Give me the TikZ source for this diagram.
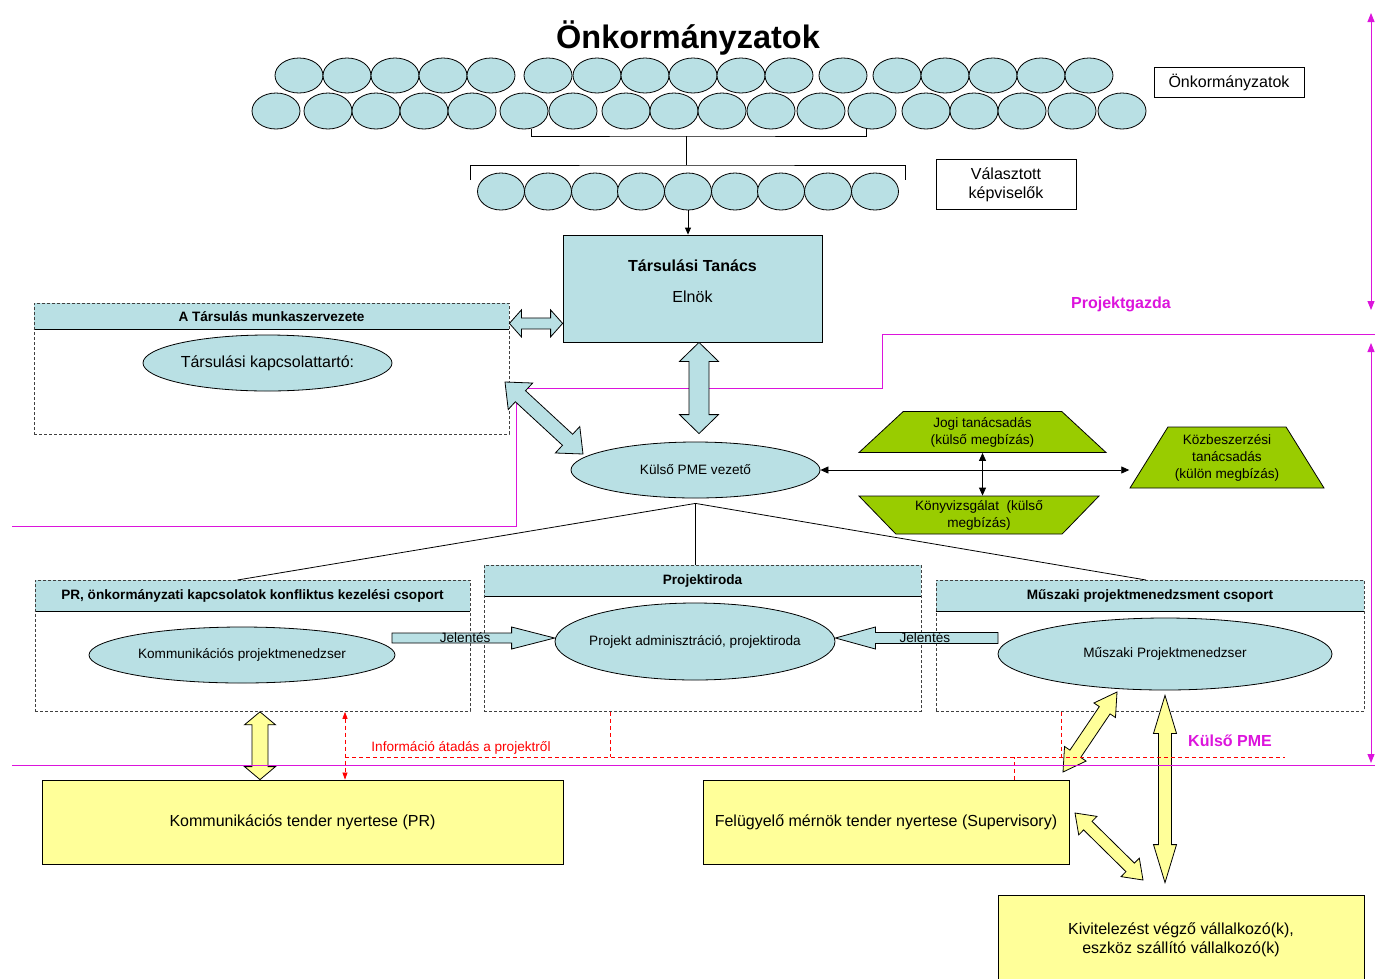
\documentclass[tikz,border=0pt]{standalone}
\usepackage{fontspec}
\setmainfont{Liberation Sans}
\usetikzlibrary{shapes.geometric, arrows.meta, positioning, calc}

\definecolor{tblue}{RGB}{185,224,228}
\definecolor{tgreen}{RGB}{153,204,0}
\definecolor{tyellow}{RGB}{255,255,153}
\definecolor{tmagenta}{RGB}{220,20,220}

\newcommand{\smallfont}{\fontsize{13.6}{17}\selectfont}
\newcommand{\largefont}{\fontsize{16}{19}\selectfont}

% block arrows: style, from, to, half shaft, half head, head length
\newcommand{\fatarrow}[6]{%
	\coordinate (fa1) at ($(#2)!#6!(#3)$);
	\coordinate (fa2) at ($(#3)!#6!(#2)$);
	\draw[#1] (#2) -- ($(fa1)!#5!90:(#3)$) -- ($(fa1)!#4!90:(#3)$) -- ($(fa2)!#4!-90:(#2)$) -- ($(fa2)!#5!-90:(#2)$)
		-- (#3) -- ($(fa2)!#5!90:(#2)$) -- ($(fa2)!#4!90:(#2)$) -- ($(fa1)!#4!-90:(#3)$) -- ($(fa1)!#5!-90:(#3)$) -- cycle;
}
\newcommand{\fatsingle}[6]{%
	\coordinate (fa1) at ($(#3)!#6!(#2)$);
	\draw[#1] ($(#2)!#4!90:(#3)$) -- ($(fa1)!#4!-90:(#2)$) -- ($(fa1)!#5!-90:(#2)$) -- (#3)
		-- ($(fa1)!#5!90:(#2)$) -- ($(fa1)!#4!90:(#2)$) -- ($(#2)!#4!-90:(#3)$) -- cycle;
}

\tikzstyle{member} = [ellipse, draw, fill=tblue, minimum width=48pt, minimum height=36pt, inner sep=0pt]
\tikzstyle{tag} = [rectangle, draw, fill=white, align=center, font=\largefont]
\tikzstyle{council} = [rectangle, draw, fill=tblue, align=center, font=\largefont, minimum width=259pt, minimum height=107pt]
\tikzstyle{teamhead} = [rectangle, fill=tblue, anchor=north, minimum height=31pt, inner sep=0pt, font=\smallfont\bfseries]
\tikzstyle{teamframe} = [rectangle, draw=black!75, dash pattern=on 3pt off 2pt, anchor=north]
\tikzstyle{role} = [ellipse, draw, fill=tblue, inner sep=0pt, font=\smallfont]
\tikzstyle{advisor} = [trapezium, draw, fill=tgreen, align=center, inner sep=0pt, trapezium stretches body, font=\smallfont]
\tikzstyle{tender} = [rectangle, draw, fill=tyellow, align=center, font=\largefont]
\tikzstyle{tie} = [line width=0.8pt, black]
\tikzstyle{link} = [line width=0.8pt, ->, >={Triangle[length=7pt, width=6pt]}, black]
\tikzstyle{twoway} = [line width=0.8pt, <->, >={Triangle[length=8pt, width=7pt]}, black]
\tikzstyle{bluearrow} = [draw, line width=0.8pt, fill=tblue]
\tikzstyle{yellowarrow} = [draw, line width=0.8pt, fill=tyellow]
\tikzstyle{info} = [red, line width=0.7pt, dash pattern=on 4pt off 3pt]
\tikzstyle{boundary} = [tmagenta, line width=1pt]
\tikzstyle{spanarrow} = [tmagenta, line width=1pt, <->, >={Triangle[length=9pt, width=7pt]}]

\begin{document}
\begin{tikzpicture}[x=1pt, y=-1pt, line width=0.8pt]
	\useasboundingbox (0,0) rectangle (1375,978);

	% Önkormányzatok
	\node (title) at (688,38) {\fontsize{32.5}{36}\selectfont\bfseries Önkormányzatok};
	\foreach \x [count=\i] in {299,347,395,443,491,548,597,645,693,741,789,843,897,945,993,1041,1089}
		\node (a\i) [member, minimum height=35pt] at (\x,75.5) {};
	\foreach \x [count=\i] in {276,328,376,424,472,524,573,626,674,722,771,821,872,926,974,1022,1072,1122}
		\node (b\i) [member] at (\x,111) {};
	\node (onk) [tag, minimum width=150pt, minimum height=30pt] at (1229,82) {Önkormányzatok};

	% Választott képviselők
	\foreach \x [count=\i] in {501,548,595,641,688,735,781,828,875}
		\node (k\i) [member, minimum width=47pt, minimum height=37pt] at (\x,191.5) {};
	\node (valaszt) [tag, minimum width=140pt, minimum height=50pt] at (1006,184.5) {Választott\\képviselők};

	\coordinate (stemtop) at (686,136);
	\coordinate (stembot) at (686,165);
	\draw[tie] ([xshift=7pt]b6.south) |- (stemtop) -| ([xshift=-6pt]b13.south);
	\draw[tie] (stemtop) -- (stembot);
	\draw[tie] (470,180) |- (stembot) -| (905,180);

	% Társulási Tanács
	\node (tanacs) [council] at (692.5,288.5) {\textbf{Társulási Tanács}\\[12pt]Elnök\\[-4pt]\mbox{}};
	\draw[link] (k5.south) -- (k5.south |- tanacs.north);

	% Munkaszervezet
	\node (munkahead) [teamhead, minimum width=475pt, minimum height=26pt] at (271.5,303) {A Társulás munkaszervezete};
	\draw[tie] (munkahead.south west) -- (munkahead.south east);
	\node (munka) [teamframe, minimum width=475pt, minimum height=131pt] at (munkahead.north) {};
	\node (kapcs) [role, font=\largefont, minimum width=249pt, minimum height=56pt, inner xsep=-2pt] at (267.5,363) {Társulási kapcsolattartó:};

	% Projektgazda border
	\draw[boundary] (1375,334) -- (882,334) -- (882,388) -- (516,388) -- (516,526) -- (12,526);

	% Külső PME
	\node (pme) [role, minimum width=249pt, minimum height=56pt] at (695.5,470) {Külső PME vezető};

	% Advisors
	\node (jogi) [advisor, minimum width=247pt, minimum height=41pt, trapezium left angle=34, trapezium right angle=34] at (982.5,432) {Jogi tanácsadás\\(külső megbízás)};
	\node (konyv) [advisor, minimum width=240pt, minimum height=38pt, trapezium left angle=141, trapezium right angle=141] at (979,515) {Könyvizsgálat~~(külső\\megbízás)};
	\node (kozb) [advisor, minimum width=194pt, minimum height=61pt, trapezium left angle=51, trapezium right angle=51] at (1227,457.5) {Közbeszerzési\\tanácsadás\\(külön megbízás)};
	\draw[twoway] (pme.east) -- (pme.east -| kozb.bottom left corner);
	\draw[twoway] (jogi.south) -- (jogi.south |- konyv.north);

	% Groups
	\node (prhead) [teamhead, minimum width=435pt] at (252.5,580) {PR, önkormányzati kapcsolatok konfliktus kezelési csoport};
	\draw[tie] (prhead.south west) -- (prhead.south east);
	\node (pr) [teamframe, minimum width=435pt, minimum height=131pt] at (prhead.north) {};
	\node (kommpm) [role, minimum width=306pt, minimum height=56pt] at (242,655) {Kommunikációs projektmenedzser};

	\node (irodahead) [teamhead, minimum width=437pt] at (702.5,565) {Projektiroda};
	\draw[tie] (irodahead.south west) -- (irodahead.south east);
	\node (iroda) [teamframe, minimum width=437pt, minimum height=146pt] at (irodahead.north) {};
	\node (admin) [role, minimum width=280pt, minimum height=77pt, inner xsep=-20pt] at (695,641.5) {Projekt adminisztráció, projektiroda};

	\node (muszhead) [teamhead, minimum width=428pt] at (1150,580) {Műszaki projektmenedzsment csoport};
	\draw[tie] (muszhead.south west) -- (muszhead.south east);
	\node (musz) [teamframe, minimum width=428pt, minimum height=131pt] at (muszhead.north) {};
	\node (muszpm) [role, minimum width=334pt, minimum height=72pt] at (1165,654) {Műszaki Projektmenedzser};

	% Lines from PME
	\coordinate (fork) at ([yshift=-5pt]pme.south);
	\draw[tie] (fork) -- ([xshift=-15pt]prhead.north);
	\draw[tie] (fork) -- (fork |- irodahead.north);
	\draw[tie] (fork) -- ([xshift=-4pt]muszhead.north);

	% Jelentés
	\coordinate (jel1a) at (392,638);
	\coordinate (jel1b) at ([yshift=3.5pt]admin.west);
	\fatsingle{bluearrow}{jel1a}{jel1b}{5pt}{11pt}{43pt}
	\node (jel1) [font=\smallfont] at ($(jel1a)!0.45!(jel1b)$) {Jelentés};
	\coordinate (jel2a) at (998,638);
	\coordinate (jel2b) at ([yshift=3.5pt]admin.east);
	\fatsingle{bluearrow}{jel2a}{jel2b}{5.5pt}{11pt}{40pt}
	\node (jel2) [font=\smallfont] at ($(jel2a)!0.45!(jel2b)$) {Jelentés};

	% Tenders
	\node (prtender) [tender, minimum width=521pt, minimum height=84pt] at (302.5,822) {Kommunikációs tender nyertese (PR)};
	\node (felugyelo) [tender, minimum width=366pt, minimum height=84pt] at (886,822) {Felügyelő mérnök tender nyertese (Supervisory)};
	\node (kivitel) [tender, minimum width=366pt, minimum height=90pt] at (1181,940) {Kivitelezést végző vállalkozó(k),\\eszköz szállító vállalkozó(k)};

	% Block arrows
	\coordinate (ta1) at ([yshift=-7pt]munkahead.east);
	\coordinate (ta2) at (ta1 -| tanacs.west);
	\fatarrow{bluearrow}{ta1}{ta2}{5.5pt}{13.5pt}{12pt}
	\coordinate (tb1) at ([xshift=6.5pt]tanacs.south);
	\coordinate (tb2) at ([yshift=8pt]tb1 |- pme.north);
	\fatarrow{bluearrow}{tb1}{tb2}{10pt}{19.5pt}{19pt}
	\coordinate (tc1) at (505,382);
	\coordinate (tc2) at (583,454);
	\fatarrow{bluearrow}{tc1}{tc2}{7.5pt}{18pt}{21pt}

	\coordinate (ya1) at ([xshift=7.5pt]pr.south);
	\coordinate (ya2) at (ya1 |- prtender.north);
	\fatarrow{yellowarrow}{ya1}{ya2}{8pt}{15.5pt}{13pt}
	\coordinate (yb1) at (1117,692);
	\coordinate (yb2) at (1063,772);
	\fatarrow{yellowarrow}{yb1}{yb2}{6.5pt}{13pt}{22pt}
	\coordinate (yc1) at ([yshift=-5pt]muszpm.south);
	\coordinate (yc2) at ([yshift=12pt]yc1 |- kivitel.north);
	\fatarrow{yellowarrow}{yc1}{yc2}{6.5pt}{11.5pt}{38pt}
	\coordinate (yd1) at (1075,813);
	\coordinate (yd2) at (1143,880);
	\fatarrow{yellowarrow}{yd1}{yd2}{6pt}{13pt}{18pt}

	% Információ átadás
	\coordinate (info) at (345,757);
	\coordinate (infoend) at (1285,757);
	\draw[info] (info) -- (infoend);
	\draw[info, <->, >={Triangle[length=7pt, width=5pt]}] (info |- pr.south) -- (info |- prtender.north);
	\coordinate (infoa) at ([xshift=-92.5pt]iroda.south);
	\draw[info] (infoa) -- (infoa |- info);
	\coordinate (infob) at ([xshift=-89pt]musz.south);
	\draw[info] (infob) -- (infob |- info);
	\coordinate (infoc) at ([xshift=128pt]felugyelo.north);
	\draw[info] (infoc) -- (infoc |- info);
	\node (infotext) [red, font=\smallfont] at (461,748) {Információ átadás a projektről};

	% Magenta borders
	\draw[boundary] (12,765) -- (1375,765);
	\draw[spanarrow] (1371,13) -- (1371,310);
	\draw[spanarrow] (1371,343) -- (1371,763);
	\node (gazda) [tmagenta, font=\largefont\bfseries] at (1121,304) {Projektgazda};
	\node (kulso) [tmagenta, font=\largefont\bfseries] at (1230,741) {Külső PME};

\end{tikzpicture}
\end{document}
